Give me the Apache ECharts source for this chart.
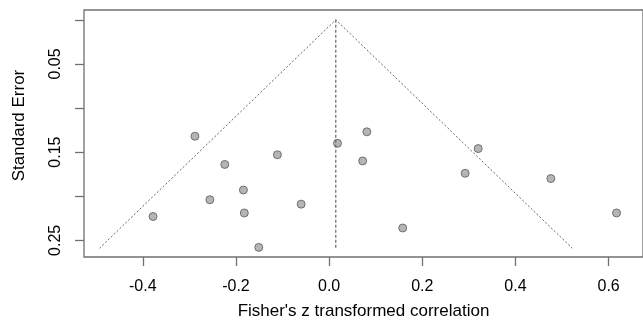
<!DOCTYPE html>
<html>
<head>
<meta charset="utf-8">
<script src="https://cdn.jsdelivr.net/npm/echarts@6/dist/echarts.min.js"></script>
<style>html,body{margin:0;padding:0;background:#fff;}#c{width:643px;height:325px;}</style>
</head>
<body>
<div id="c"></div>
<script>
// Study effects (Fisher's z) and standard errors
var zValues  = [-0.288, -0.224, -0.111, -0.184, -0.256, -0.060, -0.182, -0.378, -0.151,
                 0.018,  0.081,  0.072,  0.320,  0.292,  0.476,  0.158,  0.617];
var seValues = [0.132, 0.164, 0.153, 0.193, 0.204, 0.209, 0.219, 0.223, 0.258,
                0.140, 0.127, 0.160, 0.146, 0.174, 0.180, 0.236, 0.219];
// Funnel outline (pseudo confidence region) and centre line
var funnelX = [-0.493, 0.0143, 0.522];
var funnelY = [0.259, 0, 0.259];
var centreX = [0.0143, 0.0143];
var centreY = [0, 0.259];
// Ticks
var xTicks = [-0.4, -0.2, 0.0, 0.2, 0.4, 0.6];
var yTicks = [0, 0.05, 0.1, 0.15, 0.2, 0.25];
var yLabels = [0.05, 0.15, 0.25];

function pairs(xs, ys){ return xs.map(function(x,i){ return [x, ys[i]]; }); }

var chart = echarts.init(document.getElementById('c'), null, {renderer:'canvas'});
var font = 'Liberation Sans, Arial, sans-serif';
chart.setOption({
  animation: false,
  backgroundColor: '#ffffff',
  grid: {left: 84, right: -2, top: 10, bottom: 63, show: true, borderColor: '#707070', borderWidth: 1.3, backgroundColor: 'transparent'},
  xAxis: {
    type: 'value', min: -0.5262, max: 0.6738, position: 'bottom',
    name: "Fisher's z transformed correlation", nameLocation: 'middle', nameGap: 46,
    nameTextStyle: {fontFamily: font, fontSize: 17, color: '#000'},
    axisLine: {show: false, onZero: false}, splitLine: {show: false},
    axisTick: {show: true, length: 9, customValues: xTicks, lineStyle: {color: '#707070', width: 1.3}},
    axisLabel: {customValues: xTicks, margin: 22, fontFamily: font, fontSize: 16, color: '#000',
      formatter: function(v){ return v.toFixed(1); }}
  },
  yAxis: {
    type: 'value', inverse: true, min: -0.0111, max: 0.2689, position: 'left',
    name: 'Standard Error', nameLocation: 'middle', nameGap: 56,
    nameTextStyle: {fontFamily: font, fontSize: 17, color: '#000', padding: [0, 0, 0, 16]},
    axisLine: {show: false, onZero: false}, splitLine: {show: false},
    axisTick: {show: true, length: 9, customValues: yTicks, lineStyle: {color: '#707070', width: 1.3}},
    axisLabel: {customValues: yLabels, rotate: 90, margin: 20, fontFamily: font, fontSize: 16, color: '#000',
      formatter: function(v){ return v.toFixed(2); }}
  },
  series: [
    {type: 'line', data: pairs(funnelX, funnelY), symbol: 'none', silent: true,
     lineStyle: {color: '#666', width: 1, type: [2, 2]}},
    {type: 'line', data: pairs(centreX, centreY), symbol: 'none', silent: true,
     lineStyle: {color: '#666', width: 1.2, type: [3, 2]}},
    {type: 'scatter', data: pairs(zValues, seValues), symbol: 'circle', symbolSize: 8,
     itemStyle: {color: '#a3a3a3', borderColor: '#5a5a5a', borderWidth: 1}}
  ]
});
</script>
</body>
</html>
